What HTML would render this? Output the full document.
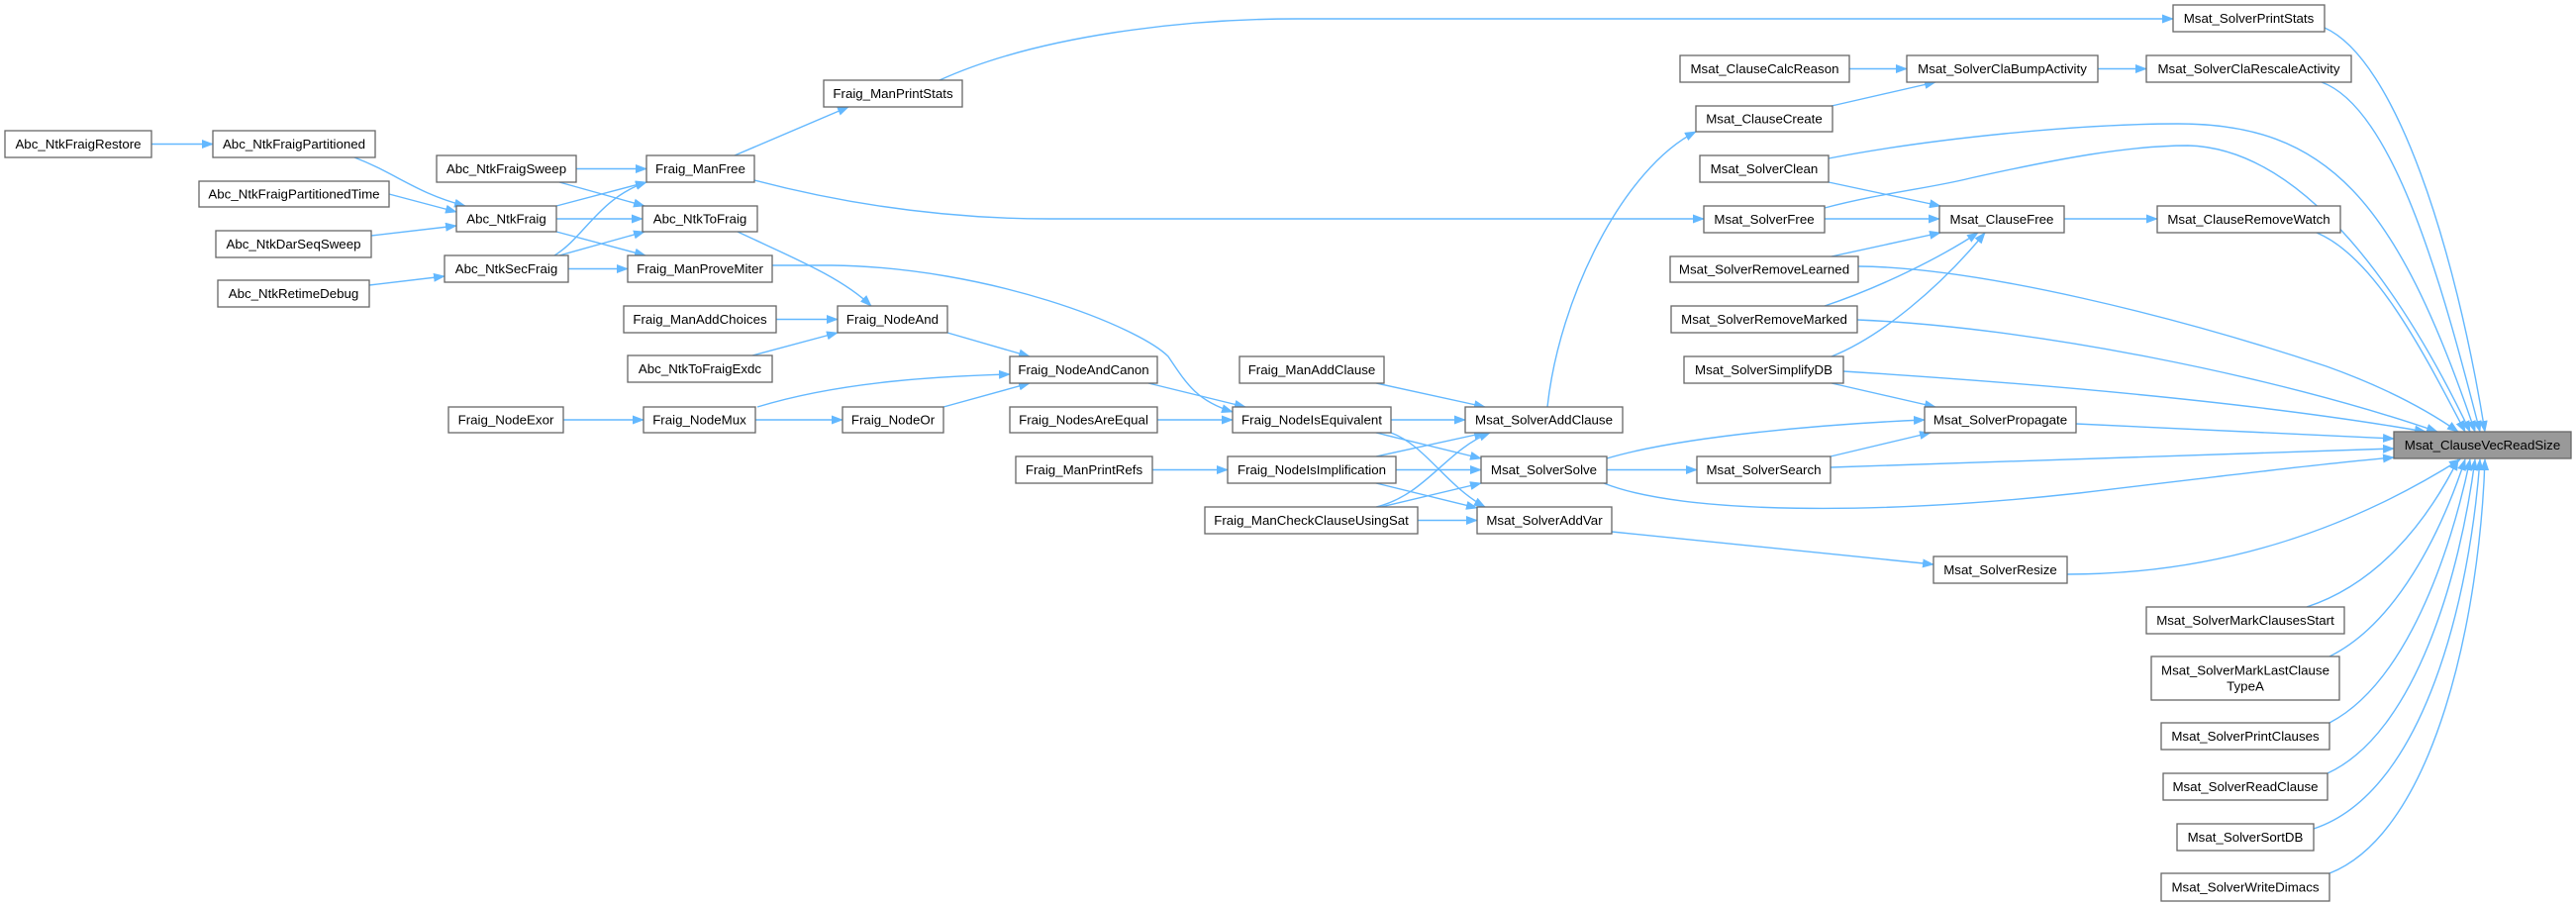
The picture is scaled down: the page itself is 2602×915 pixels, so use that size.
<!DOCTYPE html>
<html><head><meta charset="utf-8"><style>
html,body{margin:0;padding:0;background:#fff;}
svg{display:block;}
text{font-family:"Liberation Sans",Arial,sans-serif;font-size:13.3px;fill:#000;text-anchor:middle;dominant-baseline:central;}
.n{fill:#fff;stroke:#666;stroke-width:1.3;}
.g{fill:#999;stroke:#666;stroke-width:1.3;}
.e{fill:none;stroke:#63b8ff;stroke-width:1.4;marker-end:url(#a);}
</style></head><body>
<svg width="2602" height="915" viewBox="0 0 2602 915" xmlns="http://www.w3.org/2000/svg">
<defs><marker id="a" markerWidth="12" markerHeight="9" refX="11" refY="4.5" orient="auto" markerUnits="userSpaceOnUse"><path d="M0,0 L12,4.5 L0,9z" fill="#63b8ff"/></marker></defs>
<g>
<path class="e" d="M153 145.5 L215 145.5"/>
<path class="e" d="M358 159 C400 175, 420 195, 470 208"/>
<path class="e" d="M393 196 L461 214"/>
<path class="e" d="M375 238 L461 228"/>
<path class="e" d="M373 288 L449 279"/>
<path class="e" d="M582 170.5 L653 170.5"/>
<path class="e" d="M565 184 L651 208"/>
<path class="e" d="M562 208 L653 184"/>
<path class="e" d="M562 221 L649 221"/>
<path class="e" d="M562 234 L652 258"/>
<path class="e" d="M560 258 C590 240, 605 200, 653 184"/>
<path class="e" d="M565 258 L651 234"/>
<path class="e" d="M574 271.5 L634 271.5"/>
<path class="e" d="M742 157 L857 108"/>
<path class="e" d="M762 182 C850 205, 950 221, 1060 221 L1721 221"/>
<path class="e" d="M949 81 C1050 35, 1200 19, 1310 19 L2195 19"/>
<path class="e" d="M745 234 C800 260, 850 280, 880 309"/>
<path class="e" d="M780 268 L840 268 C1000 270, 1150 330, 1180 360 C1200 390, 1210 405, 1245 416"/>
<path class="e" d="M784 322.5 L846 322.5"/>
<path class="e" d="M760 359 L846 336"/>
<path class="e" d="M957 336 L1040 360"/>
<path class="e" d="M569 424 L650 424"/>
<path class="e" d="M763 424 L851 424"/>
<path class="e" d="M765 411 C850 385, 950 380, 1020 378"/>
<path class="e" d="M953 411 L1040 387"/>
<path class="e" d="M1160 387 L1258 411"/>
<path class="e" d="M1169 424 L1245 424"/>
<path class="e" d="M1164 474.5 L1240 474.5"/>
<path class="e" d="M1390 387 L1500 411"/>
<path class="e" d="M1405 424 L1480 424"/>
<path class="e" d="M1390 437 L1496 463"/>
<path class="e" d="M1405 437 C1440 450, 1460 490, 1500 512"/>
<path class="e" d="M1390 461 L1500 437"/>
<path class="e" d="M1410 474.5 L1496 474.5"/>
<path class="e" d="M1390 488 L1492 513"/>
<path class="e" d="M1390 512 C1440 500, 1460 455, 1505 437"/>
<path class="e" d="M1395 512 L1496 488"/>
<path class="e" d="M1432 525.5 L1492 525.5"/>
<path class="e" d="M1563 411 C1575 300, 1640 170, 1713 133"/>
<path class="e" d="M1850 107 L1955 83"/>
<path class="e" d="M1868 69.5 L1926 69.5"/>
<path class="e" d="M2119 69.5 L2168 69.5"/>
<path class="e" d="M1847 184 L1960 208"/>
<path class="e" d="M1843 221 L1959 221"/>
<path class="e" d="M1850 259 L1960 235"/>
<path class="e" d="M1843 309 C1900 290, 1960 260, 1998 235"/>
<path class="e" d="M1850 360 C1900 340, 1960 290, 2005 235"/>
<path class="e" d="M1850 387 L1955 411"/>
<path class="e" d="M2085 221 L2179 221"/>
<path class="e" d="M1623 463 C1700 440, 1850 428, 1944 424"/>
<path class="e" d="M1623 474.5 L1714 474.5"/>
<path class="e" d="M1849 461 L1950 437"/>
<path class="e" d="M1620 488 C1700 520, 1900 520, 2100 498 C2250 480, 2350 468, 2418 462"/>
<path class="e" d="M1849 472 L2418 453"/>
<path class="e" d="M2097 428 L2418 443"/>
<path class="e" d="M1628 537 L1953 570"/>
<path class="e" d="M2088 580 C2250 580, 2380 530, 2485 464"/>
<path class="e" d="M2348 28 C2420 60, 2480 250, 2510 436"/>
<path class="e" d="M2345 83 C2420 110, 2470 300, 2505 436"/>
<path class="e" d="M1847 160 C1950 140, 2100 125, 2200 125 C2350 125, 2420 200, 2500 436"/>
<path class="e" d="M1843 210 C1900 195, 1950 190, 1990 180 C2080 160, 2150 147, 2210 147 C2330 150, 2430 300, 2495 436"/>
<path class="e" d="M2340 235 C2400 260, 2450 360, 2490 436"/>
<path class="e" d="M1877 269 C2000 270, 2200 320, 2350 370 C2420 395, 2460 420, 2483 436"/>
<path class="e" d="M1876 323 C2050 330, 2300 380, 2462 436"/>
<path class="e" d="M1862 375 C2100 390, 2300 410, 2450 436"/>
<path class="e" d="M2330 613 C2400 590, 2450 530, 2483 464"/>
<path class="e" d="M2353 663 C2420 630, 2465 540, 2490 464"/>
<path class="e" d="M2353 730 C2430 690, 2475 560, 2495 464"/>
<path class="e" d="M2351 781 C2440 740, 2485 580, 2500 464"/>
<path class="e" d="M2337 837 C2450 800, 2495 600, 2505 464"/>
<path class="e" d="M2353 882 C2460 840, 2505 620, 2510 464"/>
</g>
<g>
<rect class="n" x="5" y="132" width="148" height="27"/><text x="79" y="145.5">Abc_NtkFraigRestore</text>
<rect class="n" x="215" y="132" width="164" height="27"/><text x="297" y="145.5">Abc_NtkFraigPartitioned</text>
<rect class="n" x="201" y="183" width="192" height="26"/><text x="297" y="196">Abc_NtkFraigPartitionedTime</text>
<rect class="n" x="218" y="233" width="157" height="27"/><text x="296.5" y="246.5">Abc_NtkDarSeqSweep</text>
<rect class="n" x="220" y="283" width="153" height="27"/><text x="296.5" y="296.5">Abc_NtkRetimeDebug</text>
<rect class="n" x="441" y="157" width="141" height="27"/><text x="511.5" y="170.5">Abc_NtkFraigSweep</text>
<rect class="n" x="461" y="208" width="101" height="26"/><text x="511.5" y="221">Abc_NtkFraig</text>
<rect class="n" x="449" y="258" width="125" height="27"/><text x="511.5" y="271.5">Abc_NtkSecFraig</text>
<rect class="n" x="653" y="157" width="109" height="27"/><text x="707.5" y="170.5">Fraig_ManFree</text>
<rect class="n" x="649" y="208" width="116" height="26"/><text x="707" y="221">Abc_NtkToFraig</text>
<rect class="n" x="634" y="258" width="146" height="27"/><text x="707" y="271.5">Fraig_ManProveMiter</text>
<rect class="n" x="630" y="309" width="154" height="27"/><text x="707" y="322.5">Fraig_ManAddChoices</text>
<rect class="n" x="634" y="359" width="146" height="27"/><text x="707" y="372.5">Abc_NtkToFraigExdc</text>
<rect class="n" x="832" y="81" width="140" height="27"/><text x="902" y="94.5">Fraig_ManPrintStats</text>
<rect class="n" x="846" y="309" width="111" height="27"/><text x="901.5" y="322.5">Fraig_NodeAnd</text>
<rect class="n" x="1020" y="360" width="149" height="27"/><text x="1094.5" y="373.5">Fraig_NodeAndCanon</text>
<rect class="n" x="453" y="411" width="116" height="26"/><text x="511" y="424">Fraig_NodeExor</text>
<rect class="n" x="650" y="411" width="113" height="26"/><text x="706.5" y="424">Fraig_NodeMux</text>
<rect class="n" x="851" y="411" width="102" height="26"/><text x="902" y="424">Fraig_NodeOr</text>
<rect class="n" x="1020" y="411" width="149" height="26"/><text x="1094.5" y="424">Fraig_NodesAreEqual</text>
<rect class="n" x="1026" y="461" width="138" height="27"/><text x="1095" y="474.5">Fraig_ManPrintRefs</text>
<rect class="n" x="1252" y="360" width="146" height="27"/><text x="1325" y="373.5">Fraig_ManAddClause</text>
<rect class="n" x="1245" y="411" width="160" height="26"/><text x="1325" y="424">Fraig_NodeIsEquivalent</text>
<rect class="n" x="1240" y="461" width="170" height="27"/><text x="1325" y="474.5">Fraig_NodeIsImplification</text>
<rect class="n" x="1217" y="512" width="215" height="27"/><text x="1324.5" y="525.5">Fraig_ManCheckClauseUsingSat</text>
<rect class="n" x="1480" y="411" width="159" height="26"/><text x="1559.5" y="424">Msat_SolverAddClause</text>
<rect class="n" x="1496" y="461" width="127" height="27"/><text x="1559.5" y="474.5">Msat_SolverSolve</text>
<rect class="n" x="1492" y="512" width="136" height="27"/><text x="1560" y="525.5">Msat_SolverAddVar</text>
<rect class="n" x="1714" y="461" width="135" height="27"/><text x="1781.5" y="474.5">Msat_SolverSearch</text>
<rect class="n" x="1953" y="562" width="135" height="27"/><text x="2020.5" y="575.5">Msat_SolverResize</text>
<rect class="n" x="2195" y="5" width="153" height="27"/><text x="2271.5" y="18.5">Msat_SolverPrintStats</text>
<rect class="n" x="1697" y="56" width="171" height="27"/><text x="1782.5" y="69.5">Msat_ClauseCalcReason</text>
<rect class="n" x="1926" y="56" width="193" height="27"/><text x="2022.5" y="69.5">Msat_SolverClaBumpActivity</text>
<rect class="n" x="2168" y="56" width="207" height="27"/><text x="2271.5" y="69.5">Msat_SolverClaRescaleActivity</text>
<rect class="n" x="1713" y="107" width="138" height="26"/><text x="1782" y="120">Msat_ClauseCreate</text>
<rect class="n" x="1717" y="157" width="130" height="27"/><text x="1782" y="170.5">Msat_SolverClean</text>
<rect class="n" x="1721" y="208" width="122" height="27"/><text x="1782" y="221.5">Msat_SolverFree</text>
<rect class="n" x="1959" y="208" width="126" height="27"/><text x="2022" y="221.5">Msat_ClauseFree</text>
<rect class="n" x="2179" y="208" width="185" height="27"/><text x="2271.5" y="221.5">Msat_ClauseRemoveWatch</text>
<rect class="n" x="1687" y="259" width="190" height="26"/><text x="1782" y="272">Msat_SolverRemoveLearned</text>
<rect class="n" x="1688" y="309" width="188" height="27"/><text x="1782" y="322.5">Msat_SolverRemoveMarked</text>
<rect class="n" x="1701" y="360" width="161" height="27"/><text x="1781.5" y="373.5">Msat_SolverSimplifyDB</text>
<rect class="n" x="1944" y="411" width="153" height="26"/><text x="2020.5" y="424">Msat_SolverPropagate</text>
<rect class="g" x="2418" y="436" width="179" height="27"/><text x="2507.5" y="449.5">Msat_ClauseVecReadSize</text>
<rect class="n" x="2168" y="613" width="200" height="27"/><text x="2268" y="626.5">Msat_SolverMarkClausesStart</text>
<rect class="n" x="2173" y="663" width="190" height="44"/><text x="2268" y="677">Msat_SolverMarkLastClause</text><text x="2268" y="693">TypeA</text>
<rect class="n" x="2183" y="730" width="170" height="27"/><text x="2268" y="743.5">Msat_SolverPrintClauses</text>
<rect class="n" x="2185" y="781" width="166" height="27"/><text x="2268" y="794.5">Msat_SolverReadClause</text>
<rect class="n" x="2199" y="832" width="138" height="27"/><text x="2268" y="845.5">Msat_SolverSortDB</text>
<rect class="n" x="2183" y="882" width="170" height="28"/><text x="2268" y="896">Msat_SolverWriteDimacs</text>
</g>
</svg>
</body></html>
